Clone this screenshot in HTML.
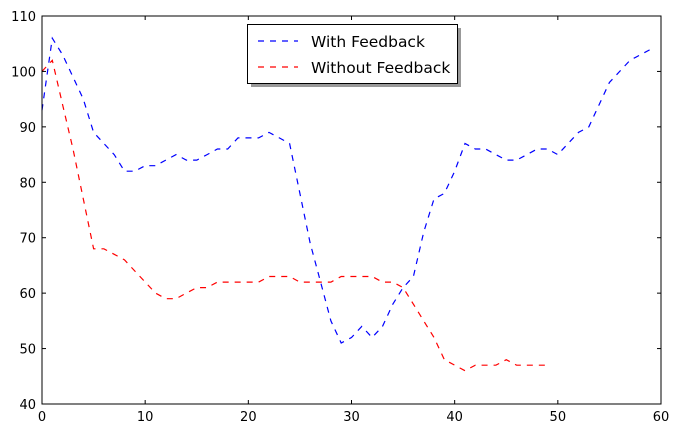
<!DOCTYPE html>
<html><head><meta charset="utf-8"><style>
body{margin:0;background:#fff;}
svg{display:block;font-family:"DejaVu Sans","Liberation Sans",sans-serif;}
</style></head><body>
<svg id="chart" width="680" height="434"></svg>
<script>
const xTicks=[0,10,20,30,40,50,60];
const yTicks=[40,50,60,70,80,90,100,110];
const withFeedback=[93,106,103,99,95,89,87,85,82,82,83,83,84,85,84,84,85,86,86,88,88,88,89,88,87,78,69,62,55,51,52,54,52,54,58,61,63,71,77,78,82,87,86,86,85,84,84,85,86,86,85,87,89,90,94,98,100,102,103,104];
const withoutFeedback=[100,102,94,86,77,68,68,67,66,64,62,60,59,59,60,61,61,62,62,62,62,62,63,63,63,62,62,62,62,63,63,63,63,62,62,61,58,55,52,48,47,46,47,47,47,48,47,47,47,47];
const L=42,R=661,T=16,B=404;
const sx=v=>L+(v-0)/(60-0)*(R-L);
const sy=v=>B-(v-40)/(110-40)*(B-T);
const svg=document.getElementById('chart');
const NS='http://www.w3.org/2000/svg';
function mk(tag,attrs,parent){const e=document.createElementNS(NS,tag);for(const k in attrs)e.setAttribute(k,attrs[k]);(parent||svg).appendChild(e);return e;}
function series(data,color,name){
  const d=data.map((v,i)=>(i?'L':'M')+sx(i).toFixed(1)+','+sy(v).toFixed(1)).join('');
  const p=mk('path',{d:d,fill:'none',stroke:color,'stroke-width':1.2,'stroke-dasharray':'6,6'});
  
  
}
series(withFeedback,'#0000ff','with-feedback-line');
series(withoutFeedback,'#ff0000','without-feedback-line');
const fr=mk('rect',{x:L,y:T,width:R-L,height:B-T,fill:'none',stroke:'#000','stroke-width':1});


xTicks.forEach(v=>{
  const x=sx(v);
  mk('line',{x1:x,x2:x,y1:B,y2:B-4,stroke:'#000'});
  mk('line',{x1:x,x2:x,y1:T,y2:T+4,stroke:'#000'});
  const t=mk('text',{x:x,y:B+17,'text-anchor':'middle','font-size':13});
  t.textContent=v;
  
  
});
yTicks.forEach(v=>{
  const y=sy(v);
  mk('line',{x1:L,x2:L+4,y1:y,y2:y,stroke:'#000'});
  mk('line',{x1:R,x2:R-4,y1:y,y2:y,stroke:'#000'});
  const t=mk('text',{x:L-6,y:y+5,'text-anchor':'end','font-size':13});
  t.textContent=v;
  
  
});
const g=mk('g',{});


mk('rect',{x:251,y:28,width:210,height:59,fill:'#999'},g);
mk('rect',{x:247.5,y:24.5,width:210,height:59,fill:'#fff',stroke:'#000'},g);
[['With Feedback','#0000ff',41],['Without Feedback','#ff0000',67]].forEach(([n,c,y])=>{
  mk('line',{x1:258,x2:298,y1:y,y2:y,stroke:c,'stroke-width':1.2,'stroke-dasharray':'6,6'},g);
  const t=mk('text',{x:311,y:y+6,'font-size':15.5},g);
  t.textContent=n;
  
  
});
</script>
</body></html>
